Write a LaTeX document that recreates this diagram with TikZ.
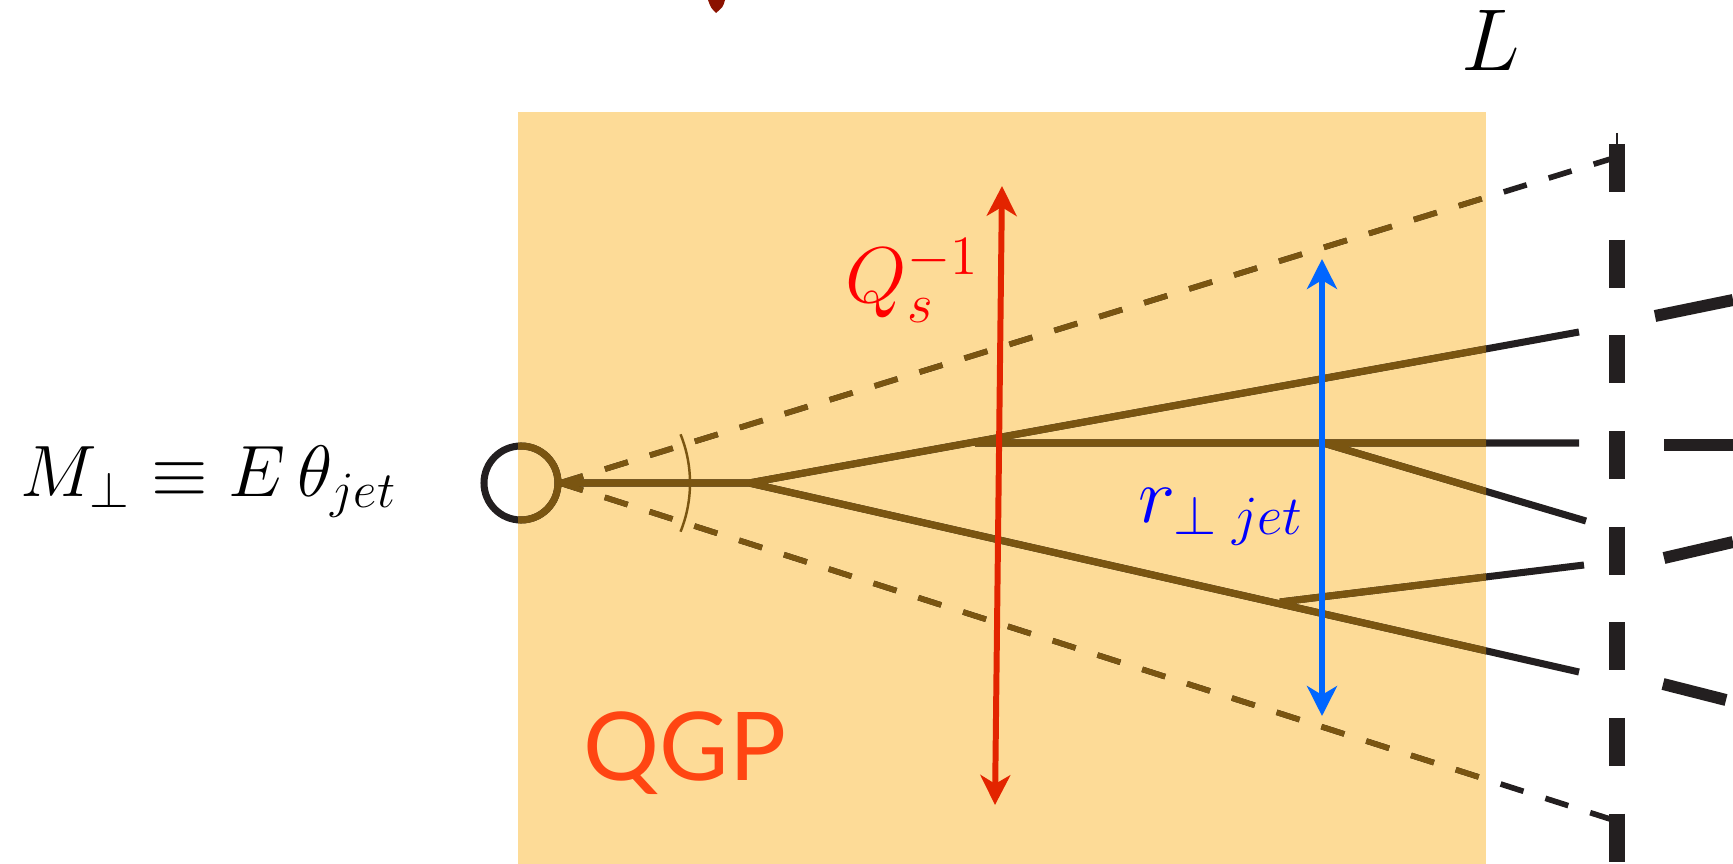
\RequirePackage{fix-cm}
\documentclass[tikz,border=0pt]{standalone}
\usepackage{fontspec}
\newfontfamily\qgpfont{Lato}
\usetikzlibrary{arrows.meta}

\definecolor{plasma}{HTML}{FDDB97}
\definecolor{marrone}{HTML}{7A5511}
\definecolor{nero}{HTML}{231F20}
\definecolor{rosso}{HTML}{E32400}
\definecolor{blu}{HTML}{0066FF}
\definecolor{arancio}{HTML}{FF4512}
\definecolor{granata}{HTML}{8B1200}

\begin{document}
\begin{tikzpicture}[
			x=0.01cm, y=-0.01cm,
			getto/.style={line width=2pt, line cap=butt},
			cono/.style={line width=1.6pt, dash pattern=on 0.24cm off 0.23cm},
			rivelatore/.style={line width=4.8pt, nero, dash pattern=on 0.48cm off 0.476cm},
			uscita/.style={line width=3.4pt, nero},
			freccia/.style={{Stealth[length=8.5pt,width=8.5pt,inset=2.5pt]}-{Stealth[length=8.5pt,width=8.5pt,inset=2.5pt]}, line width=1.7pt},
			etichetta/.style={inner sep=0pt, anchor=base west, font=\fontsize{22.5}{27}\selectfont}]
			
			\useasboundingbox (0,0) rectangle (1733,864);
			
			%% --- plasma ---
			\fill[plasma] (518,112) rectangle (1486,864);
			
			%% Punti chiave del getto
			\coordinate (o) at (560,483);   %% vertice
			\coordinate (a) at (749,483);   %% prima scissione
			\coordinate (b) at (975,443);   %% scissione sul ramo alto
			\coordinate (c) at (1323,443);  %% scissione sul ramo orizzontale
			\coordinate (d) at (1280,602);  %% scissione sul ramo basso
			%% estremi dei rami
			\coordinate (e1) at (1579,332);
			\coordinate (e2) at (1579,443);
			\coordinate (e3) at (1586,521);
			\coordinate (e4) at (1584,565);
			\coordinate (e5) at (1579,672);
			%% estremi del cono
			\coordinate (f1) at (1617,157);
			\coordinate (f2) at (1610,819);
			
			\def\rami{%
				\draw[getto] (o) -- (a) (a) -- (e1) (b) -- (e2) (c) -- (e3)
					(a) -- (e5) (d) -- (e4);
				\draw[cono] (o) -- (f1) (o) -- (f2);
				\draw[getto] (521,483) circle (37);}
			
			%% --- rami fuori dal plasma (neri) ---
			\begin{scope}[nero]
				\rami
			\end{scope}
			
			%% --- rami dentro il plasma (marroni) ---
			\begin{scope}[marrone]
				\clip (518,112) rectangle (1486,864);
				\rami
				\draw[line width=0.7pt] (o) ++(22:130) arc[start angle=22, end angle=-22, radius=130];
			\end{scope}
			
			%% --- rivelatore a distanza L ---
			\draw[nero, line width=0.4pt] (1617,133) -- (1617,144);
			\draw[rivelatore] (1617,144) -- (1617,864);
			
			%% --- getti oltre il rivelatore ---
			\draw[uscita] (1655,316) -- (1733,300);
			\draw[uscita] (1664,445) -- (1733,445);
			\draw[uscita] (1664,558) -- (1733,542);
			\draw[uscita] (1663,684) -- (1726,700);
			
			%% --- frecce delle scale trasverse ---
			\coordinate (q1) at (1002,186);
			\coordinate (q2) at (995,805);
			\draw[freccia, rosso] (q2) -- (q1);
			\coordinate (r1) at (1322,259);
			\coordinate (r2) at (1322,716);
			\draw[freccia, blu] (r2) -- (r1);
			
			%% --- etichette ---
			\node[etichetta, text=red] (qs) at (845,303) {$Q_s^{-1}$};
			\node[etichetta, text=blue] (rjet) at (1138,523) {$r_{\perp\;jet}$};
			\node[etichetta, font=\fontsize{20.7}{25}\selectfont] (mperp) at (20,497) {$M_\perp \equiv E\,\theta_{jet}$};
			\node[etichetta, font=\fontsize{25}{30}\selectfont] (lun) at (1461,71) {$L$};
			\node[etichetta, text=arancio, font=\qgpfont\fontsize{27}{30}\selectfont] (qgp) at (583,780) {QGP};
			
			%% --- frammento in alto ---
			\fill[granata] (708,0) -- (725,0) .. controls (723,7) .. (716,13) .. controls (711,8) .. (708,0) -- cycle;
			
		\end{tikzpicture}
\end{document}
